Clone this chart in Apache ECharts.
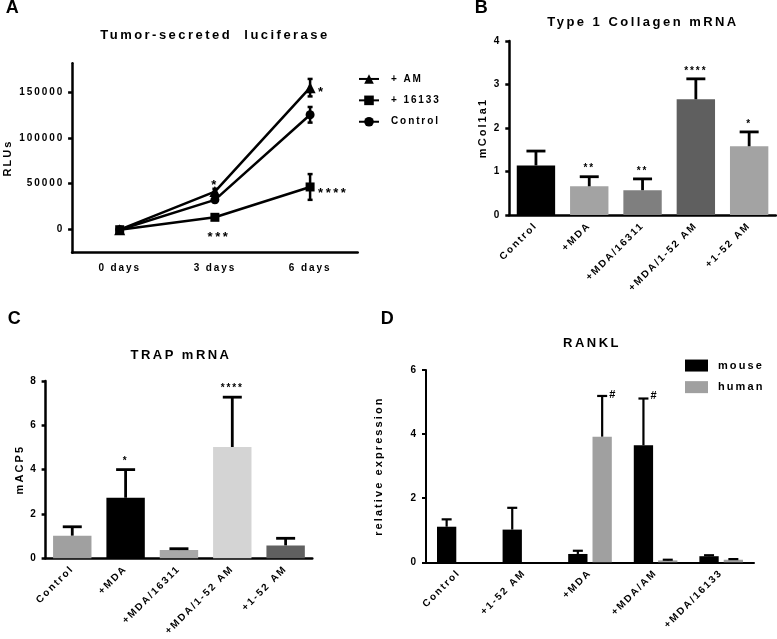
<!DOCTYPE html>
<html><head><meta charset="utf-8">
<script src="https://cdn.jsdelivr.net/npm/echarts@6/dist/echarts.min.js"></script>
<style>html,body{margin:0;padding:0;background:#fff}#c{width:777px;height:639px}</style>
</head><body><div id="c"></div>
<script>
// ---------- DATA ----------
// Panel A: Tumor-secreted luciferase
const daysA = ['0 days', '3 days', '6 days'];
const amA = [0, 41500, 154500];
const amErrA = [1500, 3000, 9500];
const inhA = [0, 13500, 46500];
const inhErrA = [1500, 2500, 14000];
const ctrlA = [0, 32500, 125000];
const ctrlErrA = [1500, 2500, 8500];
const yTicksA = [0, 50000, 100000, 150000];
const annotTextA = ['*', '*', '****', '***'];
const annotDayA = [1, 2, 2, 1];
const annotValA = [amA[1], amA[2], inhA[2], inhA[1]];

// Panel B: Type 1 Collagen mRNA
const catsB = ['Control', '+MDA', '+MDA/16311', '+MDA/1-52 AM', '+1-52 AM'];
const valsB = [1.14, 0.66, 0.57, 2.66, 1.58];
const errB = [0.33, 0.22, 0.26, 0.47, 0.33];
const starsB = ['', '**', '**', '****', '*'];

// Panel C: TRAP mRNA
const catsC = ['Control', '+MDA', '+MDA/16311', '+MDA/1-52 AM', '+1-52 AM'];
const valsC = [1.02, 2.73, 0.37, 5.02, 0.58];
const errC = [0.40, 1.27, 0.06, 2.25, 0.32];
const starsC = ['', '*', '', '****', ''];

// Panel D: RANKL
const catsD = ['Control', '+1-52 AM', '+MDA', '+MDA/AM', '+MDA/16133'];
const mouseD = [1.11, 1.02, 0.26, 3.65, 0.19];
const mouseErrD = [0.23, 0.68, 0.10, 1.46, 0.03];
const humanD = [0, 0, 3.92, 0.06, 0.08];
const humanErrD = [0, 0, 1.27, 0.02, 0.02];
const marksMouseD = ['', '', '', '#', ''];
const marksHumanD = ['', '', '#', '', ''];

// ---------- STYLE ----------
const colorsB = ['#000000', '#a3a3a3', '#7f7f7f', '#5f5f5f', '#a3a3a3'];
const colorsC = ['#a0a0a0', '#000000', '#a8a8a8', '#d4d4d4', '#606060'];
const annotOffA = [[0, -6, 'center'], [8, 5, 'left'], [8, 6, 'left'], [4, 20, 'center']];
const FONT = '"Liberation Sans", Arial, Helvetica, sans-serif';

// letter-spaced text, like the original figure
(function () {
  const P = CanvasRenderingContext2D.prototype;
  if (!('letterSpacing' in P)) return;
  const ft = P.fillText, st = P.strokeText, mt = P.measureText;
  function ls(ctx) {
    const m = /(\d+(?:\.\d+)?)px/.exec(ctx.font);
    const s = m ? parseFloat(m[1]) : 10;
    ctx.letterSpacing = (s * 0.19).toFixed(2) + 'px';
  }
  P.fillText = function () { ls(this); return ft.apply(this, arguments); };
  P.strokeText = function () { ls(this); return st.apply(this, arguments); };
  P.measureText = function () { ls(this); return mt.apply(this, arguments); };
})();

const chart = echarts.init(document.getElementById('c'), null, {renderer: 'canvas'});

function txt(size) { return {color: '#000', fontSize: size, fontWeight: 'bold', fontFamily: FONT}; }

function errorSeries(xi, yi, vals, errs, o) {
  return {
    type: 'custom', xAxisIndex: xi, yAxisIndex: yi, z: 10, silent: true,
    data: vals.map((v, i) => [i, v, errs[i]]),
    encode: {x: 0, y: 1},
    renderItem(params, api) {
      const i = api.value(0), v = api.value(1), e = api.value(2);
      const band = api.size([1, 0])[0];
      const dx = o.offset ? o.offset(band) : 0;
      const top = api.coord([i, v + e]);
      const base = api.coord([i, o.sym ? v - e : v]);
      const x = top[0] + dx;
      const ls = {stroke: '#000', lineWidth: o.lw};
      const ch = [];
      if (e > 0) {
        ch.push({type: 'line', shape: {x1: x, y1: base[1], x2: x, y2: top[1]}, style: ls});
        ch.push({type: 'line', shape: {x1: x - o.cap / 2, y1: top[1], x2: x + o.cap / 2, y2: top[1]}, style: ls});
        if (o.sym) ch.push({type: 'line', shape: {x1: x - o.cap / 2, y1: base[1], x2: x + o.cap / 2, y2: base[1]}, style: ls});
      }
      const t = o.marks && o.marks[params.dataIndex];
      if (t) {
        ch.push({type: 'text', x: x + o.mdx, y: top[1] + o.mdy,
          style: {text: t, fill: '#000', textFill: '#000', font: 'bold ' + o.msize + 'px ' + FONT,
            align: o.malign, textAlign: o.malign, verticalAlign: 'middle', textVerticalAlign: 'middle'}});
      }
      return {type: 'group', children: ch};
    }
  };
}

function catAxis(gi, data, lw, rotate, margin) {
  return {
    type: 'category', gridIndex: gi, data: data, boundaryGap: true,
    axisLine: {onZero: false, lineStyle: {color: '#000', width: lw}},
    axisTick: {alignWithLabel: true, length: 5, lineStyle: {color: '#000', width: lw}},
    axisLabel: Object.assign(txt(10), {rotate: rotate, margin: margin, interval: 0}),
    splitLine: {show: false}
  };
}
function valAxis(gi, min, max, interval, name, gap, lw, extra) {
  return Object.assign({
    type: 'value', gridIndex: gi, min: min, max: max, interval: interval,
    name: name, nameLocation: 'middle', nameGap: gap, nameTextStyle: txt(11),
    axisLine: {show: true, lineStyle: {color: '#000', width: lw}},
    axisTick: {show: true, length: 4, lineStyle: {color: '#000', width: lw}},
    axisLabel: Object.assign(txt(10), {margin: 8, formatter: v => String(v)}),
    splitLine: {show: false}
  }, extra || {});
}

const GAP_D = 0.26, CATGAP_D = 0.335;
function offD(sign) {
  return band => {
    const bw = band * (1 - CATGAP_D) / (2 + GAP_D);
    return sign * bw * (1 + GAP_D) / 2;
  };
}

const option = {
  animation: false,
  backgroundColor: '#fff',
  textStyle: {fontFamily: FONT},
  title: [
    {text: 'A', left: 14, top: 8.5, textAlign: 'center', textVerticalAlign: 'middle', padding: 0, textStyle: txt(18)},
    {text: 'B', left: 483, top: 8.5, textAlign: 'center', textVerticalAlign: 'middle', padding: 0, textStyle: txt(18)},
    {text: 'C', left: 16, top: 319, textAlign: 'center', textVerticalAlign: 'middle', padding: 0, textStyle: txt(18)},
    {text: 'D', left: 389, top: 319, textAlign: 'center', textVerticalAlign: 'middle', padding: 0, textStyle: txt(18)},
    {text: 'Tumor-secreted  luciferase', left: 215, top: 35, textAlign: 'center', textVerticalAlign: 'middle', padding: 0, textStyle: txt(13)},
    {text: 'Type 1 Collagen mRNA', left: 643, top: 22, textAlign: 'center', textVerticalAlign: 'middle', padding: 0, textStyle: txt(13)},
    {text: 'TRAP mRNA', left: 181, top: 355, textAlign: 'center', textVerticalAlign: 'middle', padding: 0, textStyle: txt(13)},
    {text: 'RANKL', left: 592, top: 343.5, textAlign: 'center', textVerticalAlign: 'middle', padding: 0, textStyle: txt(13)}
  ],
  legend: [
    {data: ['+ AM', '+ 16133', 'Control'], orient: 'vertical', left: 358, top: 73, padding: 0,
      itemWidth: 20, itemHeight: 12, itemGap: 9.5, textStyle: Object.assign(txt(10), {padding: [0, 0, 0, 7]})},
    {data: ['mouse', 'human'], orient: 'vertical', left: 685, top: 359, icon: 'rect', padding: 0,
      itemWidth: 23, itemHeight: 12, itemGap: 8.5, textStyle: Object.assign(txt(11), {padding: [0, 0, 0, 5]})}
  ],
  grid: [
    {left: 70.7, top: 63.3, width: 287, height: 189.4},
    {left: 509.3, top: 41, width: 266.5, height: 174},
    {left: 45.6, top: 381, width: 266.7, height: 178},
    {left: 426, top: 370, width: 328, height: 192.3}
  ],
  xAxis: [
    catAxis(0, daysA, 2.5, 0, 10),
    catAxis(1, catsB, 2.5, 45, 9),
    catAxis(2, catsC, 2.5, 45, 9),
    catAxis(3, catsD, 2, 45, 9)
  ],
  yAxis: [
    valAxis(0, -25000, 181000, 50000, 'RLUs', 58, 2.5, {
      axisTick: {show: true, length: 4, customValues: yTicksA, lineStyle: {color: '#000', width: 2.5}},
      axisLabel: Object.assign(txt(10), {margin: 8, customValues: yTicksA, formatter: v => String(v)})
    }),
    valAxis(1, 0, 4, 1, 'mCol1a1', 16, 2.5),
    valAxis(2, 0, 8, 2, 'mACP5', 16.5, 2.5),
    valAxis(3, 0, 6, 2, 'relative expression', 40.5, 2)
  ],
  series: [
    {name: '+ AM', type: 'line', xAxisIndex: 0, yAxisIndex: 0, data: amA, symbol: 'triangle', symbolSize: 11,
      lineStyle: {color: '#000', width: 2.5}, itemStyle: {color: '#000'}, z: 3},
    {name: '+ 16133', type: 'line', xAxisIndex: 0, yAxisIndex: 0, data: inhA, symbol: 'rect', symbolSize: 9,
      lineStyle: {color: '#000', width: 2.5}, itemStyle: {color: '#000'}, z: 3},
    {name: 'Control', type: 'line', xAxisIndex: 0, yAxisIndex: 0, data: ctrlA, symbol: 'circle', symbolSize: 9,
      lineStyle: {color: '#000', width: 2.5}, itemStyle: {color: '#000'}, z: 3},
    errorSeries(0, 0, amA, amErrA, {sym: true, cap: 5, lw: 2.5}),
    errorSeries(0, 0, inhA, inhErrA, {sym: true, cap: 5, lw: 2.5}),
    errorSeries(0, 0, ctrlA, ctrlErrA, {sym: true, cap: 5, lw: 2.5}),
    {
      type: 'custom', xAxisIndex: 0, yAxisIndex: 0, z: 12, silent: true,
      data: annotDayA.map((d, i) => [d, annotValA[i]]), encode: {x: 0, y: 1},
      renderItem(params, api) {
        const p = api.coord([api.value(0), api.value(1)]);
        const o = annotOffA[params.dataIndex];
        return {type: 'text', x: p[0] + o[0], y: p[1] + o[1],
          style: {text: annotTextA[params.dataIndex], fill: '#000', textFill: '#000', font: 'bold 13px ' + FONT,
            align: o[2], textAlign: o[2], verticalAlign: 'middle', textVerticalAlign: 'middle'}};
      }
    },
    {type: 'bar', xAxisIndex: 1, yAxisIndex: 1, barCategoryGap: '28%',
      data: valsB.map((v, i) => ({value: v, itemStyle: {color: colorsB[i]}}))},
    errorSeries(1, 1, valsB, errB, {cap: 19, lw: 2.8, marks: starsB, mdx: 0, mdy: -8, msize: 10, malign: 'center'}),
    {type: 'bar', xAxisIndex: 2, yAxisIndex: 2, barCategoryGap: '28%',
      data: valsC.map((v, i) => ({value: v, itemStyle: {color: colorsC[i]}}))},
    errorSeries(2, 2, valsC, errC, {cap: 19, lw: 2.8, marks: starsC, mdx: 0, mdy: -8.5, msize: 10, malign: 'center'}),
    {name: 'mouse', type: 'bar', xAxisIndex: 3, yAxisIndex: 3, data: mouseD, itemStyle: {color: '#000'},
      barGap: (GAP_D * 100) + '%', barCategoryGap: (CATGAP_D * 100) + '%'},
    {name: 'human', type: 'bar', xAxisIndex: 3, yAxisIndex: 3, data: humanD, itemStyle: {color: '#a0a0a0'},
      barGap: (GAP_D * 100) + '%', barCategoryGap: (CATGAP_D * 100) + '%'},
    errorSeries(3, 3, mouseD, mouseErrD, {cap: 10, lw: 2.2, offset: offD(-1), marks: marksMouseD, mdx: 7, mdy: -2.5, msize: 11, malign: 'left'}),
    errorSeries(3, 3, humanD, humanErrD, {cap: 10, lw: 2.2, offset: offD(1), marks: marksHumanD, mdx: 7, mdy: -1, msize: 11, malign: 'left'})
  ]
};
chart.setOption(option);
</script>
</body></html>
